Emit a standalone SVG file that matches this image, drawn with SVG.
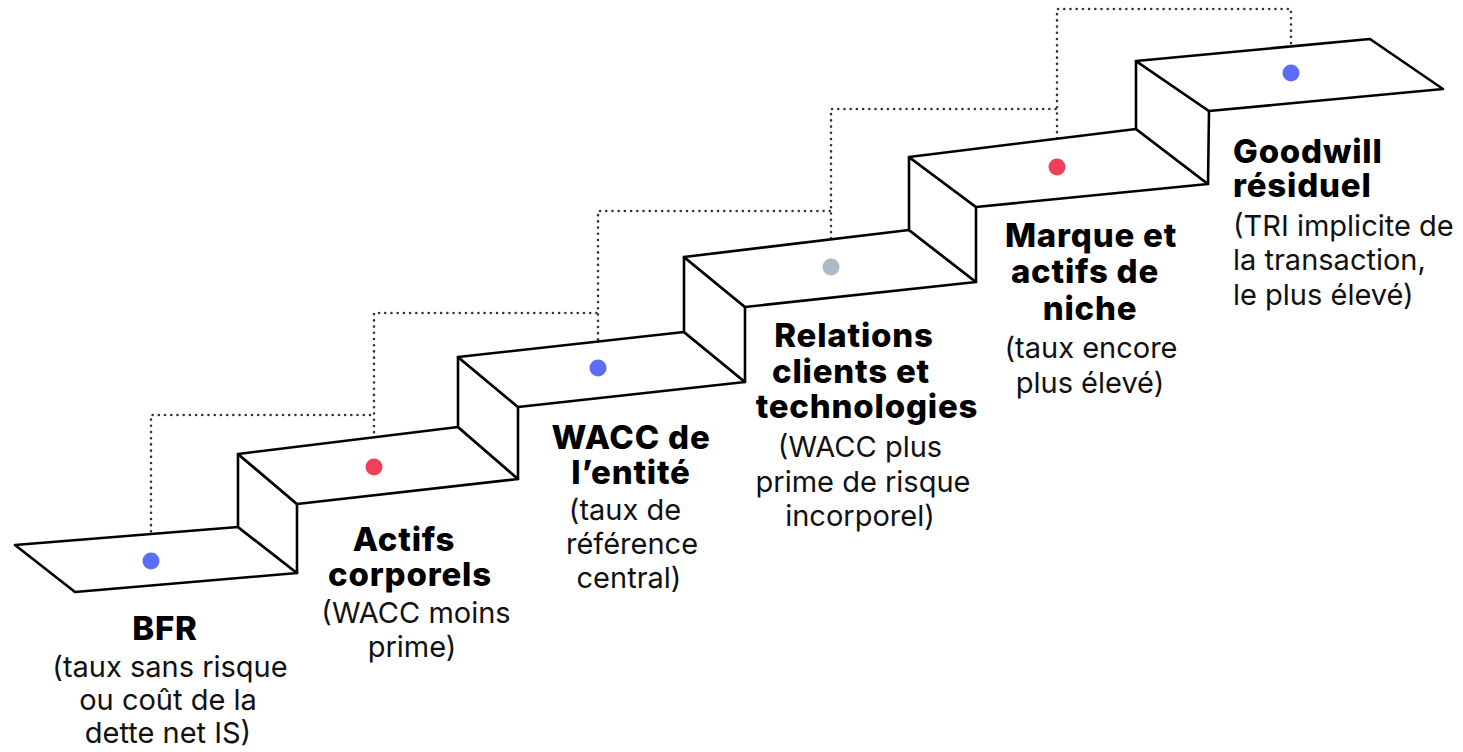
<svg xmlns="http://www.w3.org/2000/svg" width="1463" height="752" viewBox="0 0 1463 752">
<style>
.face{fill:#fff;stroke:#000;stroke-width:2.6;stroke-linejoin:round}
.dot-line{fill:none;stroke:#333;stroke-width:2.6;stroke-linecap:round;stroke-dasharray:0.01 6.2}
.lbl{font-family:Inter,"Liberation Sans",sans-serif;fill:#000;text-anchor:middle}
.t{font-weight:800;font-size:33px;letter-spacing:0.8px}
.s{font-weight:400;font-size:29px;fill:#111;letter-spacing:0}
.left{text-anchor:start}
.blue{fill:#5a6df4}
.red{fill:#f23f5a}
.gray{fill:#a9bbc9}
</style>
<rect width="1463" height="752" fill="#fff"/>
<g id="connectors">
<path class="dot-line" d="M151 550 V415 H374"/>
<path class="dot-line" d="M374 457 V313 H598"/>
<path class="dot-line" d="M598 358 V211 H831"/>
<path class="dot-line" d="M831 257 V109 H1057"/>
<path class="dot-line" d="M1057 157 V9 H1291 V63"/>
</g>
<g id="step1">
<polygon class="face" points="15,545 238,527 297,573 75,592"/>
<circle class="blue" cx="151" cy="561" r="8.5"/>
<text class="lbl"><tspan class="t" x="165" y="640">BFR</tspan><tspan class="s" x="170" y="677">(taux sans risque</tspan><tspan class="s" x="168" y="710">ou coût de la</tspan><tspan class="s" x="168" y="743">dette net IS)</tspan></text>
</g>
<g id="step2">
<polygon class="face" points="238,527 238,454 297,504 297,573"/>
<polygon class="face" points="238,454 458,427 518,479 297,504"/>
<circle class="red" cx="374" cy="467" r="8.5"/>
<text class="lbl"><tspan class="t" x="404" y="551">Actifs</tspan><tspan class="t" x="410" y="586">corporels</tspan><tspan class="s" x="416" y="623">(WACC moins</tspan><tspan class="s" x="412" y="657">prime)</tspan></text>
</g>
<g id="step3">
<polygon class="face" points="458,427 458,357 518,407 518,479"/>
<polygon class="face" points="458,357 684,332 745,382 518,407"/>
<circle class="blue" cx="598" cy="368" r="8.5"/>
<text class="lbl"><tspan class="t" x="631" y="449">WACC de</tspan><tspan class="t" x="631" y="484">l’entité</tspan><tspan class="s" x="625" y="520">(taux de</tspan><tspan class="s" x="632" y="554">référence</tspan><tspan class="s" x="629" y="588">central)</tspan></text>
</g>
<g id="step4">
<polygon class="face" points="684,332 684,257 745,307 745,382"/>
<polygon class="face" points="684,257 909,230 976,282 745,307"/>
<circle class="gray" cx="831" cy="267" r="8.5"/>
<text class="lbl"><tspan class="t" x="854" y="347">Relations</tspan><tspan class="t" x="851" y="383">clients et</tspan><tspan class="t" x="867" y="418">technologies</tspan><tspan class="s" x="860" y="457">(WACC plus</tspan><tspan class="s" x="863" y="492">prime de risque</tspan><tspan class="s" x="860" y="526">incorporel)</tspan></text>
</g>
<g id="step5">
<polygon class="face" points="909,230 909,157 976,207 976,282"/>
<polygon class="face" points="909,157 1136,129 1208,184 976,207"/>
<circle class="red" cx="1057" cy="167" r="8.5"/>
<text class="lbl"><tspan class="t" x="1091" y="247">Marque et</tspan><tspan class="t" x="1085" y="283">actifs de</tspan><tspan class="t" x="1090" y="320">niche</tspan><tspan class="s" x="1091" y="358">(taux encore</tspan><tspan class="s" x="1090" y="393">plus élevé)</tspan></text>
</g>
<g id="step6">
<polygon class="face" points="1136,129 1136,61 1209,111 1208,184"/>
<polygon class="face" points="1136,61 1370,39 1443,89 1209,111"/>
<circle class="blue" cx="1291" cy="73" r="8.5"/>
<text class="lbl left"><tspan class="t" x="1233" y="163">Goodwill</tspan><tspan class="t" x="1233" y="197">résiduel</tspan><tspan class="s" x="1233" y="236">(TRI implicite de</tspan><tspan class="s" x="1233" y="270">la transaction,</tspan><tspan class="s" x="1233" y="305">le plus élevé)</tspan></text>
</g>
</svg>
